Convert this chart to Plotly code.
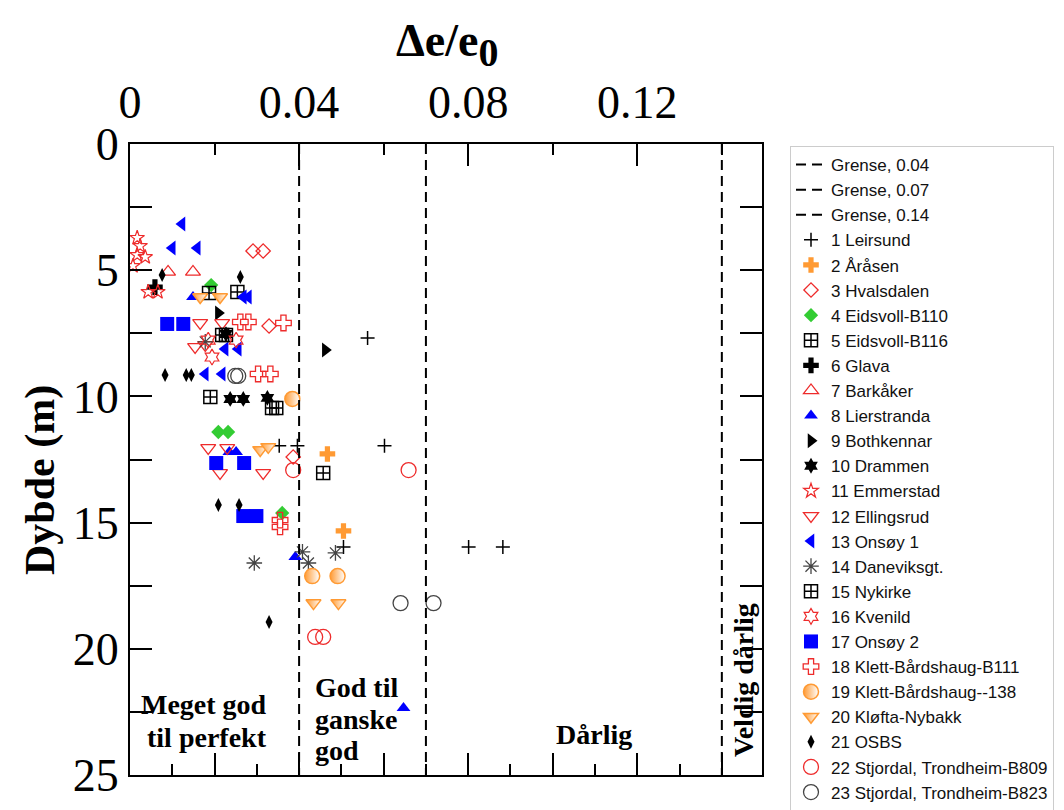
import plotly.graph_objects as go

# ---------------- data ----------------
grense_values = [0.04, 0.07, 0.14]
grense_depth = [0, 25]

leirsund_x = [0.0353, 0.0396, 0.0602, 0.0562, 0.0505, 0.0801, 0.0882]
leirsund_y = [11.96, 11.96, 11.96, 7.69, 15.97, 15.97, 15.97]
arasen_x = [0.0467, 0.0505]
arasen_y = [12.28, 15.33]
hvalsdalen_x = [0.0291, 0.0315, 0.0329, 0.0386]
hvalsdalen_y = [4.24, 4.24, 7.21, 12.40]
eidsvoll110_x = [0.0192, 0.0209, 0.0232, 0.0360]
eidsvoll110_y = [5.59, 11.41, 11.41, 14.62]
eidsvoll116_x = [0.0187, 0.0254, 0.0457]
eidsvoll116_y = [5.90, 5.86, 13.03]
glava_x = [0.0059]
glava_y = [5.67]
barkaker_x = [0.0090, 0.0149]
barkaker_y = [5.07, 5.07]
lierstranda_x = [0.0149, 0.0235, 0.0251, 0.0391, 0.0647]
lierstranda_y = [6.06, 12.20, 12.20, 16.36, 22.35]
bothkennar_x = [0.0209, 0.0462]
bothkennar_y = [6.70, 8.16]
drammen_x = [0.0227, 0.0237, 0.0268, 0.0325]
drammen_y = [7.53, 10.10, 10.10, 10.06]
emmerstad_x = [0.0017, 0.0024, 0.0017, 0.0036, 0.0007, 0.0043, 0.0066]
emmerstad_y = [3.72, 4.04, 4.40, 4.48, 4.83, 5.86, 5.86]
ellingsrud_x = [0.0166, 0.0218, 0.0154, 0.0178, 0.0185, 0.0230, 0.0213, 0.0315]
ellingsrud_y = [7.09, 7.09, 8.04, 7.96, 12.04, 12.04, 13.03, 13.03]
onsoy1_x = [0.0123, 0.0100, 0.0159, 0.0268, 0.0280, 0.0225, 0.0256, 0.0178, 0.0218]
onsoy1_y = [3.17, 4.12, 4.12, 6.06, 6.06, 8.12, 8.12, 9.11, 9.11]
daneviksgt_x = [0.0178, 0.0294, 0.0408, 0.0422, 0.0486]
daneviksgt_y = [7.84, 16.60, 16.16, 16.60, 16.20]
nykirke_x = [0.0218, 0.0227, 0.0190, 0.0336, 0.0346]
nykirke_y = [7.57, 7.57, 10.02, 10.46, 10.46]
kvenild_x = [0.0185, 0.0194, 0.0251]
kvenild_y = [7.77, 8.44, 7.77]
onsoy2_x = [0.0088, 0.0126, 0.0204, 0.0270, 0.0268, 0.0299]
onsoy2_y = [7.13, 7.13, 12.64, 12.64, 14.74, 14.74]
klett111_x = [0.0261, 0.0280, 0.0363, 0.0303, 0.0332, 0.0355, 0.0355]
klett111_y = [7.05, 7.05, 7.09, 9.11, 9.11, 14.90, 15.17]
klett138_x = [0.0384, 0.0431, 0.0491]
klett138_y = [10.10, 17.12, 17.12]
klofta_x = [0.0166, 0.0213, 0.0308, 0.0327, 0.0434, 0.0493]
klofta_y = [6.06, 6.06, 12.12, 12.00, 18.19, 18.19]
osbs_x = [0.0076, 0.0261, 0.0083, 0.0133, 0.0145, 0.0209, 0.0258, 0.0329]
osbs_y = [5.19, 5.27, 9.15, 9.15, 9.15, 14.30, 14.30, 18.94]
b809_x = [0.0386, 0.0659, 0.0438, 0.0457]
b809_y = [12.92, 12.92, 19.53, 19.53]
b823_x = [0.0249, 0.0256, 0.0640, 0.0718]
b823_y = [9.19, 9.19, 18.19, 18.19]

# ---------------- styles ----------------
RED = '#ee2b2b'
ORANGE = '#ff9a33'
BLUE = '#0000ff'
GREEN = '#33cc33'
BLACK = '#000000'
GRAY = '#444444'

series = [
    ('1 Leirsund', leirsund_x, leirsund_y, 'cross-thin-open', 10, BLACK, 1.5, None),
    ('2 Åråsen', arasen_x, arasen_y, 'cross', 13, ORANGE, 0, None),
    ('3 Hvalsdalen', hvalsdalen_x, hvalsdalen_y, 'diamond-open', 11, RED, 1.3, None),
    ('4 Eidsvoll-B110', eidsvoll110_x, eidsvoll110_y, 'diamond', 11, GREEN, 0, None),
    ('5 Eidsvoll-B116', eidsvoll116_x, eidsvoll116_y, 'square-cross-open', 13, BLACK, 1.5, None),
    ('6 Glava', glava_x, glava_y, 'cross', 13, BLACK, 0, None),
    ('7 Barkåker', barkaker_x, barkaker_y, 'triangle-up-open', 13, RED, 1.3, None),
    ('8 Lierstranda', lierstranda_x, lierstranda_y, 'triangle-up', 12, BLUE, 0, None),
    ('9 Bothkennar', bothkennar_x, bothkennar_y, 'triangle-right', 13, BLACK, 0, None),
    ('10 Drammen', drammen_x, drammen_y, 'hexagram', 12, BLACK, 0, None),
    ('11 Emmerstad', emmerstad_x, emmerstad_y, 'star-open', 11, RED, 1.2, None),
    ('12 Ellingsrud', ellingsrud_x, ellingsrud_y, 'triangle-down-open', 13, RED, 1.3, None),
    ('13 Onsøy 1', onsoy1_x, onsoy1_y, 'triangle-left', 13, BLUE, 0, None),
    ('14 Daneviksgt.', daneviksgt_x, daneviksgt_y, 'asterisk-open', 13, GRAY, 1.3, None),
    ('15 Nykirke', nykirke_x, nykirke_y, 'square-cross-open', 13, BLACK, 1.5, None),
    ('16 Kvenild', kvenild_x, kvenild_y, 'hexagram-open', 12, RED, 1.2, None),
    ('17 Onsøy 2', onsoy2_x, onsoy2_y, 'square', 14, BLUE, 0, None),
    ('18 Klett-Bårdshaug-B111', klett111_x, klett111_y, 'cross-open', 13, RED, 1.3, None),
    ('19 Klett-Bårdshaug--138', klett138_x, klett138_y, 'circle', 15, ORANGE, 1.5, 'half'),
    ('20 Kløfta-Nybakk', klofta_x, klofta_y, 'triangle-down', 13, ORANGE, 1.5, 'half'),
    ('21 OSBS', osbs_x, osbs_y, 'diamond-tall', 10, BLACK, 0, None),
    ('22 Stjordal, Trondheim-B809', b809_x, b809_y, 'circle-open', 15, RED, 1.3, None),
    ('23 Stjordal, Trondheim-B823', b823_x, b823_y, 'circle-open', 15, GRAY, 1.3, None),
]

fig = go.Figure()

for g in grense_values:
    fig.add_trace(go.Scatter(
        x=[g, g], y=grense_depth, mode='lines', name=f'Grense, {g:g}',
        line=dict(color=BLACK, width=2, dash='10px,6px'), xaxis='x2', yaxis='y'))

for name, xs, ys, sym, size, col, lw, fill in series:
    marker = dict(symbol=sym, size=size, color=col)
    if fill == 'half':
        marker['gradient'] = dict(type='horizontal', color='white')
        marker['line'] = dict(color=col, width=lw)
    elif lw > 0:
        marker['line'] = dict(color=col, width=lw)
    else:
        marker['line'] = dict(width=0)
    fig.add_trace(go.Scatter(x=xs, y=ys, mode='markers', name=name, marker=marker))

SERIF = 'Liberation Serif, Times New Roman, serif'
tickfont = dict(family=SERIF, size=46, color='black')

fig.update_layout(
    width=1064, height=810,
    margin=dict(l=122, r=310, t=136, b=43),
    paper_bgcolor='white', plot_bgcolor='white',
    showlegend=True,
    xaxis=dict(
        range=[0, 0.1495], side='top', showline=True, linewidth=2, linecolor='black',
        ticks='inside', tick0=0, dtick=0.04, ticklen=22, tickwidth=2, tickcolor='black',
        minor=dict(ticks='inside', dtick=0.02, ticklen=11, tickwidth=2, tickcolor='black', showgrid=False),
        showgrid=False, zeroline=False, tickfont=tickfont, ticklabelstandoff=6,
    ),
    xaxis2=dict(
        range=[0, 0.1495], overlaying='x', matches='x', side='bottom', anchor='y',
        showline=True, linewidth=2, linecolor='black',
        ticks='inside', tick0=0, dtick=0.02, ticklen=22, tickwidth=2, tickcolor='black',
        minor=dict(ticks='inside', dtick=0.01, ticklen=11, tickwidth=2, tickcolor='black', showgrid=False),
        showticklabels=False, showgrid=False, zeroline=False,
    ),
    yaxis=dict(
        range=[25, 0], showline=True, linewidth=2, linecolor='black', mirror='allticks',
        ticks='inside', tick0=0, dtick=5, ticklen=22, tickwidth=2, tickcolor='black',
        minor=dict(ticks='inside', dtick=2.5, ticklen=11, tickwidth=2, tickcolor='black', showgrid=False),
        showgrid=False, zeroline=False, tickfont=tickfont,
    ),
    legend=dict(
        xref='container', yref='container', x=782/1064, y=1-138/810,
        xanchor='left', yanchor='top', bordercolor='#cccccc', borderwidth=1,
        bgcolor='white', font=dict(family='Liberation Sans, Arial, sans-serif', size=17, color='#111111'),
        maxheight=760, tracegroupgap=0,
    ),
)

bold = dict(family=SERIF, size=28, color='black')
ann = [
    dict(text='<b>Meget god</b>', x=0.117, y=0.111, xanchor='center'),
    dict(text='<b>til perfekt</b>', x=0.122, y=0.060, xanchor='center'),
    dict(text='<b>God til</b>', x=0.2896, y=0.139, xanchor='left'),
    dict(text='<b>ganske</b>', x=0.2896, y=0.0887, xanchor='left'),
    dict(text='<b>god</b>', x=0.2896, y=0.0396, xanchor='left'),
    dict(text='<b>Dårlig</b>', x=0.734, y=0.0634, xanchor='center'),
]
for a in ann:
    fig.add_annotation(xref='paper', yref='paper', yanchor='middle', showarrow=False, font=bold, **a)

fig.add_annotation(text='<b>Veldig dårlig</b>', xref='paper', yref='paper', x=0.9715, y=0.1506,
                   textangle=-90, showarrow=False, font=bold, xanchor='center', yanchor='middle')
fig.add_annotation(text='<b>Dybde (m)</b>', xref='paper', yref='paper', x=-0.1424, y=0.4675,
                   textangle=-90, showarrow=False, font=dict(family=SERIF, size=42, color='black'),
                   xanchor='center', yanchor='middle')
fig.add_annotation(text='<b>Δe/e<sub><span style="font-size:40px">0</span></sub></b>',
                   xref='paper', yref='paper', x=0.5016, y=1.157,
                   showarrow=False, font=dict(family=SERIF, size=46, color='black'),
                   xanchor='center', yanchor='middle')

fig.write_html('out.html')
